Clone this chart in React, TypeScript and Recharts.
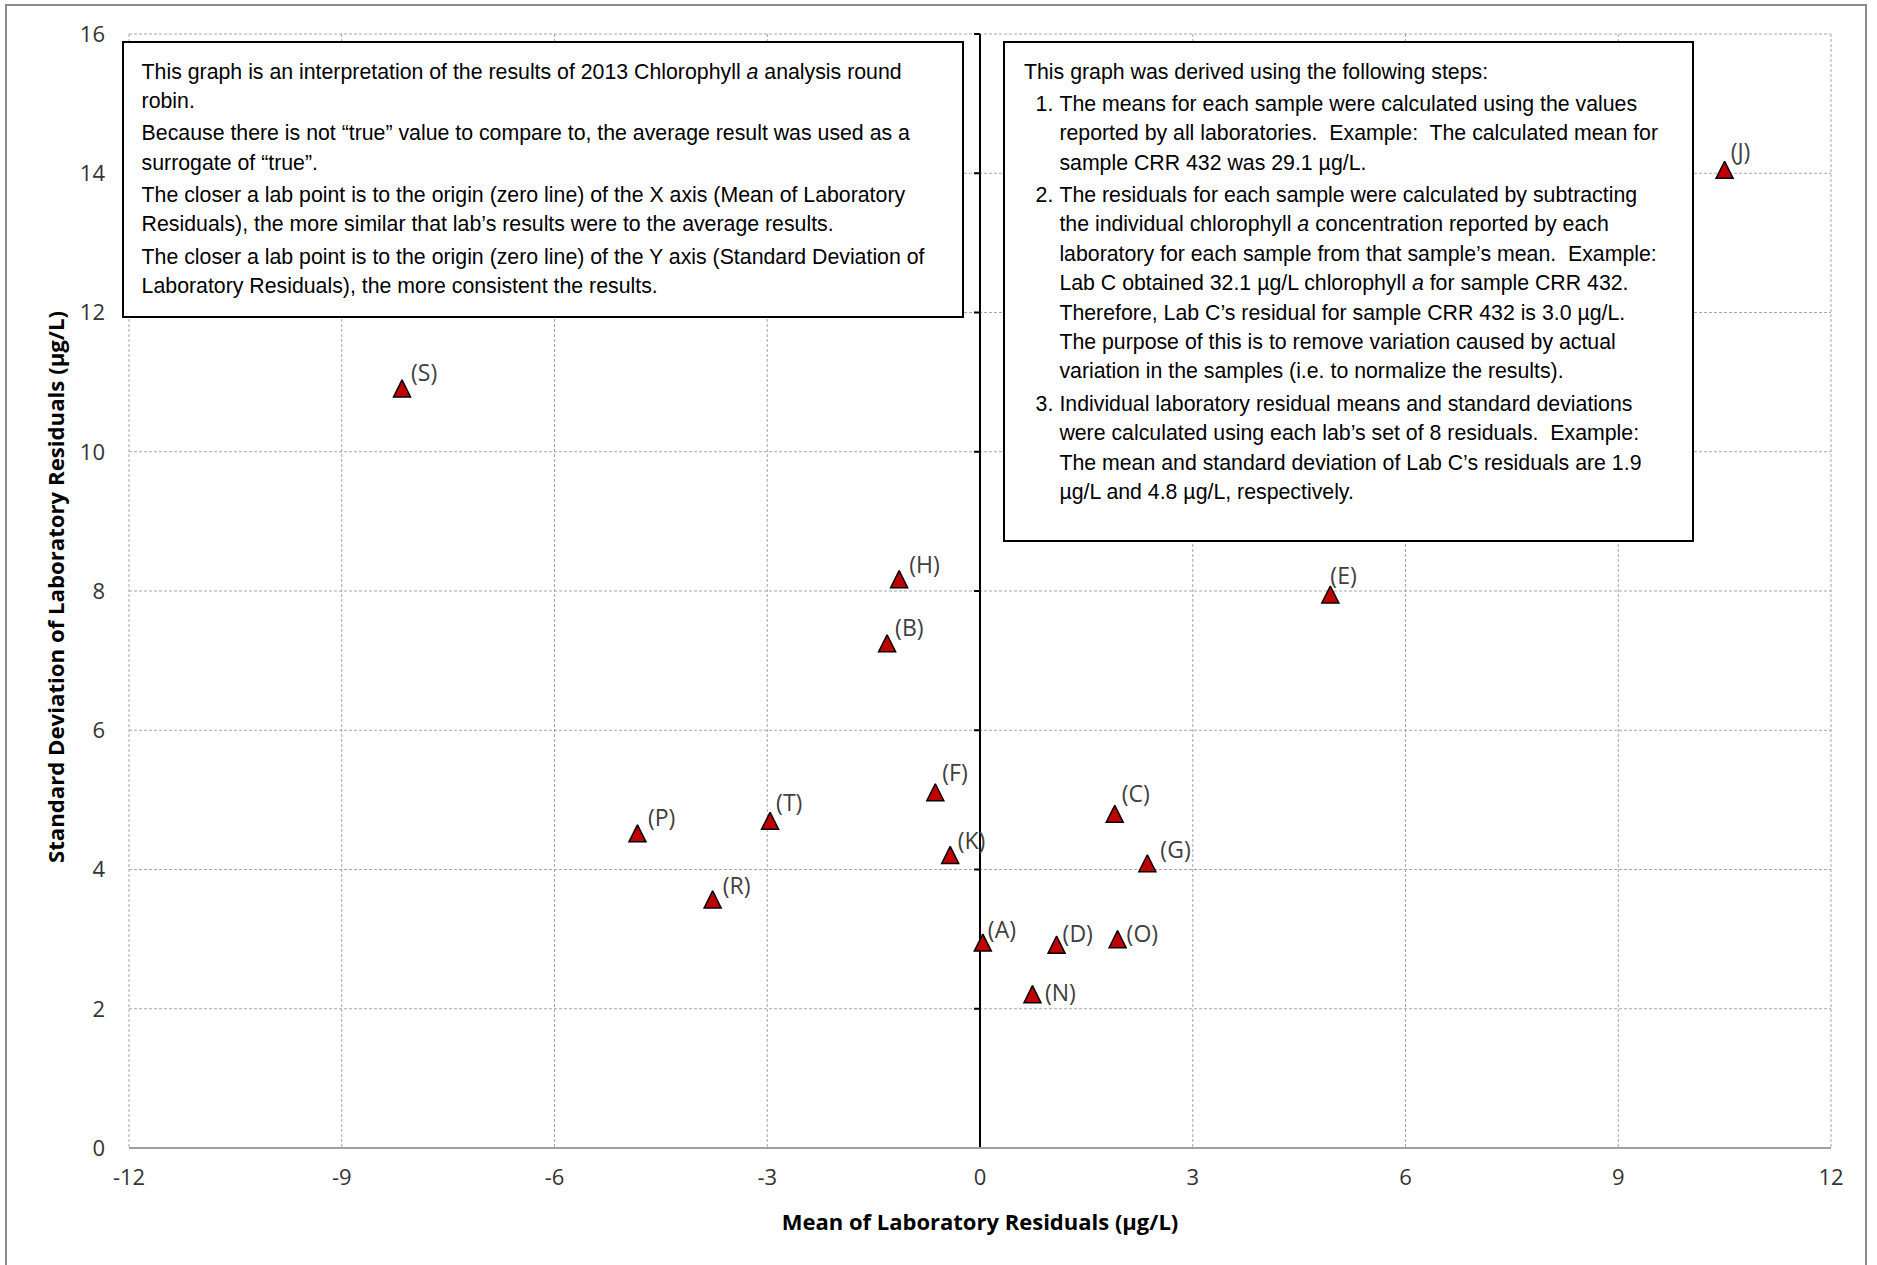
import React from 'react'
import { ScatterChart, Scatter, XAxis, YAxis, CartesianGrid, ReferenceLine } from 'recharts'

const LABS = ['A', 'B', 'C', 'D', 'E', 'F', 'G', 'H', 'J', 'K', 'N', 'O', 'P', 'R', 'S', 'T']
const MEAN_RESIDUAL = [0.04, -1.31, 1.9, 1.08, 4.94, -0.63, 2.36, -1.14, 10.5, -0.42, 0.74, 1.94, -4.83, -3.77, -8.15, -2.96]
const SD_RESIDUAL = [2.95, 7.25, 4.8, 2.92, 7.95, 5.11, 4.09, 8.17, 14.05, 4.21, 2.21, 3.0, 4.52, 3.57, 10.91, 4.7]
const X_TICKS = [-12, -9, -6, -3, 0, 3, 6, 9, 12]
const Y_TICKS = [0, 2, 4, 6, 8, 10, 12, 14, 16]

const X_TITLE = 'Mean of Laboratory Residuals (µg/L)'
const Y_TITLE = 'Standard Deviation of Laboratory Residuals (µg/L)'

const NOTE_LEFT = [
  ['This graph is an interpretation of the results of 2013 Chlorophyll *a* analysis round', 'robin.'],
  ['Because there is not “true” value to compare to, the average result was used as a', 'surrogate of “true”.'],
  ['The closer a lab point is to the origin (zero line) of the X axis (Mean of Laboratory', 'Residuals), the more similar that lab’s results were to the average results.'],
  ['The closer a lab point is to the origin (zero line) of the Y axis (Standard Deviation of', 'Laboratory Residuals), the more consistent the results.'],
]

const NOTE_RIGHT_INTRO = 'This graph was derived using the following steps:'
const NOTE_RIGHT_STEPS = [
  [
    'The means for each sample were calculated using the values',
    'reported by all laboratories.  Example:  The calculated mean for',
    'sample CRR 432 was 29.1 µg/L.',
  ],
  [
    'The residuals for each sample were calculated by subtracting',
    'the individual chlorophyll *a* concentration reported by each',
    'laboratory for each sample from that sample’s mean.  Example:',
    'Lab C obtained 32.1 µg/L chlorophyll *a* for sample CRR 432.',
    'Therefore, Lab C’s residual for sample CRR 432 is 3.0 µg/L.',
    'The purpose of this is to remove variation caused by actual',
    'variation in the samples (i.e. to normalize the results).',
  ],
  [
    'Individual laboratory residual means and standard deviations',
    'were calculated using each lab’s set of 8 residuals.  Example:',
    'The mean and standard deviation of Lab C’s residuals are 1.9',
    'µg/L and 4.8 µg/L, respectively.',
  ],
]

const points = LABS.map((lab, i) => ({ lab, x: MEAN_RESIDUAL[i], y: SD_RESIDUAL[i] }))

// hand-placed label nudges, px from marker centre to text start / baseline
const LABEL_NUDGE: Record<string, [number, number]> = {
  A: [5, -5], B: [8, -7], C: [7, -12], D: [6, -3], E: [0, -10], F: [7, -11],
  G: [13, -5.5], H: [10, -6], J: [6, -9.5], K: [7.5, -6], N: [12.5, 7], O: [9, 3],
  P: [10.5, -7], R: [10, -5], S: [9, -7.3], T: [6, -10],
}

const AXIS_FONT = '"Open Sans", sans-serif'
const NOTE_FONT = '"Liberation Sans", Arial, sans-serif'

function LabMarker(props: any) {
  const { cx, cy, payload } = props
  const [dx, dy] = LABEL_NUDGE[payload.lab] ?? [9, -7]
  const h = 8.5
  return (
    <g>
      <path
        d={`M${cx},${cy - h}L${cx + h},${cy + h}L${cx - h},${cy + h}Z`}
        fill="#c00000"
        stroke="#000"
        strokeWidth={1.5}
        strokeLinejoin="miter"
        strokeMiterlimit={2}
      />
      <text x={cx + dx} y={cy + dy} fontFamily={AXIS_FONT} fontSize={23} fill="#404040">
        ({payload.lab})
      </text>
    </g>
  )
}

// vertical axis drawn through x = 0, with small ticks on its left side
function ZeroAxis(props: any) {
  const { x1, y1, y2 } = props
  const top = Math.min(y1, y2)
  const bottom = Math.max(y1, y2)
  const lo = Y_TICKS[0]
  const span = Y_TICKS[Y_TICKS.length - 1] - lo
  return (
    <g>
      <line x1={x1} y1={top} x2={x1} y2={bottom} stroke="#000" strokeWidth={2} />
      {Y_TICKS.map((t) => {
        const y = bottom - ((bottom - top) * (t - lo)) / span
        return <line key={t} x1={x1 - 6} x2={x1} y1={y} y2={y} stroke="#000" strokeWidth={2} />
      })}
    </g>
  )
}

function XTitle(props: any) {
  const { viewBox } = props
  return (
    <text
      x={viewBox.x + viewBox.width / 2}
      y={viewBox.y + 82}
      textAnchor="middle"
      fontFamily={AXIS_FONT}
      fontWeight="bold"
      fontSize={22}
      fill="#000"
    >
      {X_TITLE}
    </text>
  )
}

function YTitle(props: any) {
  const { viewBox } = props
  const x = viewBox.x + 64
  const y = viewBox.y + viewBox.height / 2 - 4
  return (
    <text
      x={x}
      y={y}
      transform={`rotate(-90 ${x} ${y})`}
      textAnchor="middle"
      fontFamily={AXIS_FONT}
      fontWeight="bold"
      fontSize={22.2}
      fill="#000"
    >
      {Y_TITLE}
    </text>
  )
}

// *word* marks an italic run
function Rich({ text }: { text: string }) {
  const parts = text.split('*')
  return (
    <>
      {parts.map((p, i) => (i % 2 === 1 ? <i key={i}>{p}</i> : <span key={i}>{p}</span>))}
    </>
  )
}

const lineStyle: React.CSSProperties = { whiteSpace: 'pre', height: 29.4, lineHeight: '29.4px' }

function NoteBox({ left, top, width, height, padLeft, padTop, children }: any) {
  return (
    <div
      style={{
        position: 'absolute',
        left,
        top,
        width,
        height,
        boxSizing: 'border-box',
        border: '2px solid #000',
        background: '#fff',
        padding: `${padTop}px 0 0 ${padLeft}px`,
        fontFamily: NOTE_FONT,
        fontSize: 21.3,
        color: '#000',
      }}
    >
      {children}
    </div>
  )
}

export default function App() {
  return (
    <div style={{ position: 'absolute', left: 0, top: 0, width: 1877, height: 1265, background: '#fff', overflow: 'hidden' }}>
      <div
        style={{
          position: 'absolute',
          left: 5,
          top: 4,
          width: 1862,
          height: 1300,
          boxSizing: 'border-box',
          border: '2px solid #8c8c8c',
        }}
      />
      <div style={{ position: 'absolute', left: 0, top: 0 }}>
        <ScatterChart width={1877} height={1265} margin={{ top: 34, right: 46, bottom: 0, left: 0 }}>
          <CartesianGrid stroke="#a6a6a6" strokeDasharray="3 2" />
          <XAxis
            type="number"
            dataKey="x"
            domain={[-12, 12]}
            ticks={X_TICKS}
            interval={0}
            height={117}
            tickLine={false}
            tickSize={0}
            tickMargin={21}
            axisLine={{ stroke: '#a0a0a0', strokeWidth: 2 }}
            tick={{ fontFamily: AXIS_FONT, fontSize: 22, fill: '#333' }}
            label={(p: any) => <XTitle {...p} />}
          />
          <YAxis
            type="number"
            dataKey="y"
            domain={[0, 16]}
            ticks={Y_TICKS}
            interval={0}
            width={129}
            axisLine={false}
            tickLine={false}
            tickSize={0}
            tickMargin={24}
            tick={{ fontFamily: AXIS_FONT, fontSize: 22, fill: '#333' }}
            label={(p: any) => <YTitle {...p} />}
          />
          <ReferenceLine x={0} shape={(p: any) => <ZeroAxis {...p} />} />
          <Scatter data={points} shape={(p: any) => <LabMarker {...p} />} isAnimationActive={false} />
        </ScatterChart>
      </div>

      <NoteBox left={122} top={41} width={842} height={277} padLeft={17.6} padTop={14.5}>
        {NOTE_LEFT.map((para, i) => (
          <div key={i} style={{ marginTop: i === 0 ? 0 : 3 }}>
            {para.map((line, j) => (
              <div key={j} style={lineStyle}>
                <Rich text={line} />
              </div>
            ))}
          </div>
        ))}
      </NoteBox>

      <NoteBox left={1003} top={41} width={691} height={501} padLeft={19} padTop={14.5}>
        <div style={lineStyle}>{NOTE_RIGHT_INTRO}</div>
        {NOTE_RIGHT_STEPS.map((step, i) => (
          <div key={i} style={{ position: 'relative', marginTop: 3, paddingLeft: 35.4 }}>
            <span style={{ position: 'absolute', left: 11.6, top: 0, lineHeight: '29.4px' }}>{i + 1}.</span>
            {step.map((line, j) => (
              <div key={j} style={lineStyle}>
                <Rich text={line} />
              </div>
            ))}
          </div>
        ))}
      </NoteBox>
    </div>
  )
}
